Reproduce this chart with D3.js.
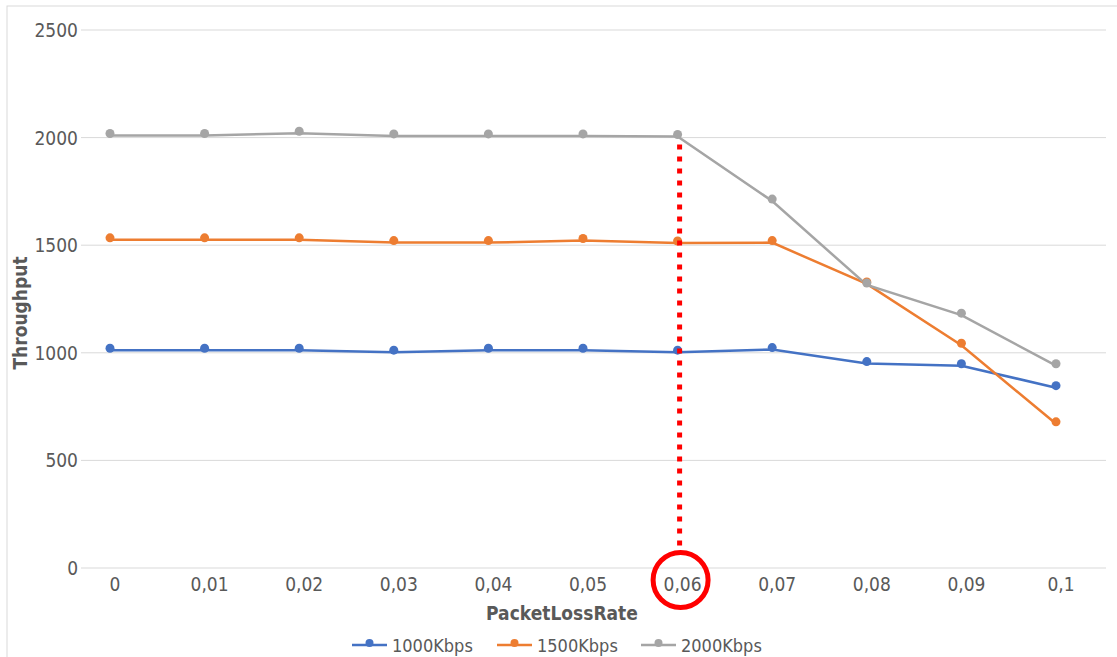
<!DOCTYPE html>
<html>
<head>
<meta charset="utf-8">
<script src="https://cdn.jsdelivr.net/npm/d3@7"></script>
<style>
  body { margin: 0; background: #fff; }
  text { font-family: "Liberation Sans Narrow", "DejaVu Sans Condensed", sans-serif; fill: #595959; }
</style>
</head>
<body>
<script>
// categories and series values
var lossRates = ["0", "0,01", "0,02", "0,03", "0,04", "0,05", "0,06", "0,07", "0,08", "0,09", "0,1"];
var s1000 = [1012, 1012, 1012, 1003, 1012, 1012, 1003, 1015, 950, 940, 838];
var s1500 = [1525, 1525, 1525, 1512, 1512, 1522, 1510, 1512, 1320, 1035, 670];
var s2000 = [2010, 2010, 2020, 2008, 2008, 2008, 2005, 1705, 1315, 1175, 940];
var seriesNames = ["1000Kbps", "1500Kbps", "2000Kbps"];
var yTicks = [0, 500, 1000, 1500, 2000, 2500];
var markedRate = "0,06";

var colors = ["#4472C4", "#ED7D31", "#A5A5A5"];
var allSeries = [s1000, s1500, s2000];

var width = 1117, height = 657;

var svg = d3.select("body").append("svg")
  .attr("width", width)
  .attr("height", height);

// chart border
svg.append("rect")
  .attr("x", 7).attr("y", 6)
  .attr("width", 1130).attr("height", 670)
  .attr("fill", "none")
  .attr("stroke", "#d9d9d9");

// scales
var x = d3.scalePoint().domain(lossRates).range([110, 1056]);
var y = d3.scaleLinear().domain([0, 2500]).range([568, 30]);

// gridlines
svg.append("g").selectAll("line")
  .data(yTicks).enter().append("line")
  .attr("x1", 81).attr("x2", 1106)
  .attr("y1", function(d) { return y(d); })
  .attr("y2", function(d) { return y(d); })
  .attr("stroke", "#d9d9d9")
  .attr("stroke-width", 1);

// y tick labels
svg.append("g").selectAll("text")
  .data(yTicks).enter().append("text")
  .attr("x", 78)
  .attr("y", function(d) { return y(d) + 7; })
  .attr("text-anchor", "end")
  .style("font-size", "19px")
  .text(function(d) { return d; });

// x tick labels
svg.append("g").selectAll("text")
  .data(lossRates).enter().append("text")
  .attr("x", function(d) { return x(d) + 5; })
  .attr("y", 591)
  .attr("text-anchor", "middle")
  .style("font-size", "19px")
  .text(function(d) { return d; });

// axis titles
svg.append("text")
  .attr("transform", "translate(27,313) rotate(-90)")
  .attr("text-anchor", "middle")
  .style("font-size", "19px")
  .style("font-weight", "bold")
  .style("font-family", "'DejaVu Sans Condensed', sans-serif")
  .text("Throughput");

svg.append("text")
  .attr("x", 562).attr("y", 620)
  .attr("text-anchor", "middle")
  .style("font-size", "19px")
  .style("font-weight", "bold")
  .style("font-family", "'DejaVu Sans Condensed', sans-serif")
  .text("PacketLossRate");

// lines and markers
var line = d3.line()
  .x(function(d, i) { return x(lossRates[i]); })
  .y(function(d) { return y(d); });

allSeries.forEach(function(s, k) {
  svg.append("path")
    .datum(s)
    .attr("d", line)
    .attr("fill", "none")
    .attr("stroke", colors[k])
    .attr("stroke-width", 2.5);
});

allSeries.forEach(function(s, k) {
  svg.append("g").selectAll("circle")
    .data(s).enter().append("circle")
    .attr("cx", function(d, i) { return x(lossRates[i]); })
    .attr("cy", function(d) { return y(d) - 2; })
    .attr("r", 4.5)
    .attr("fill", colors[k]);
});

// red highlight at 0,06
var mi = lossRates.indexOf(markedRate);
svg.append("line")
  .attr("x1", x(markedRate) + 2).attr("x2", x(markedRate) + 2)
  .attr("y1", y(s2000[mi]) + 8)
  .attr("y2", 548)
  .attr("stroke", "#FF0000")
  .attr("stroke-width", 5)
  .attr("stroke-dasharray", "5,7");

svg.append("circle")
  .attr("cx", x(markedRate) + 3)
  .attr("cy", 580)
  .attr("r", 27.5)
  .attr("fill", "none")
  .attr("stroke", "#FF0000")
  .attr("stroke-width", 5);

// legend
var legendX = [352, 497, 641];
var legend = svg.append("g").selectAll("g")
  .data(seriesNames).enter().append("g")
  .attr("transform", function(d, i) { return "translate(" + legendX[i] + ",645)"; });

legend.append("line")
  .attr("x1", 0).attr("x2", 35)
  .attr("stroke", function(d, i) { return colors[i]; })
  .attr("stroke-width", 2.5);

legend.append("circle")
  .attr("cx", 17.5).attr("cy", -2)
  .attr("r", 4)
  .attr("fill", function(d, i) { return colors[i]; });

legend.append("text")
  .attr("x", 40).attr("y", 7)
  .style("font-size", "18px")
  .text(function(d) { return d; });
</script>
</body>
</html>
